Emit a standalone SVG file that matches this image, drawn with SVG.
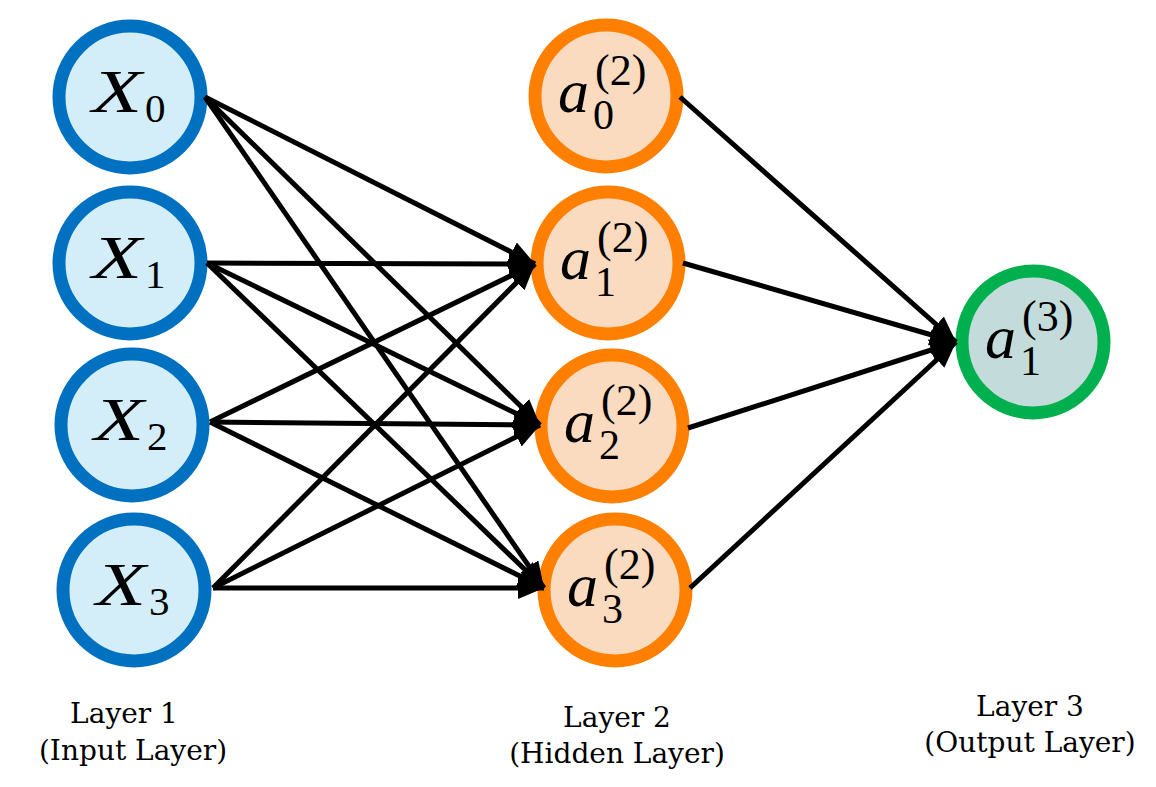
<svg xmlns="http://www.w3.org/2000/svg" width="1156" height="787" viewBox="0 0 1156 787">
<defs>
<marker id="ah" markerUnits="userSpaceOnUse" markerWidth="30" markerHeight="24" refX="26" refY="11" orient="auto">
<path d="M0,0 L26,11 L0,22 Z" fill="#000"/>
</marker>
<style>
.in{fill:#D3EEF9;stroke:#0070C0;stroke-width:13}
.hid{fill:#FBDBBF;stroke:#FF7F00;stroke-width:13}
.out{fill:#C3DCDB;stroke:#00B04F;stroke-width:13}
.m{font-family:"Liberation Serif",serif;font-style:italic;fill:#000}
.n{font-family:"Liberation Serif",serif;fill:#000}
.lbl{font-family:"DejaVu Serif","Liberation Serif",serif;font-size:28px;fill:#000;text-anchor:middle}
.c line{stroke:#000;stroke-width:5;marker-end:url(#ah)}
</style>
</defs>
<rect width="1156" height="787" fill="#fff"/>
<g id="nodes-input">
<g id="X0"><circle class="in" cx="130" cy="97" r="71"/><text class="m" x="92" y="112" font-size="62" textLength="50" lengthAdjust="spacingAndGlyphs">X</text><text class="n" x="145" y="122" font-size="41">0</text></g>
<g id="X1"><circle class="in" cx="130" cy="263" r="71"/><text class="m" x="92" y="278" font-size="62" textLength="50" lengthAdjust="spacingAndGlyphs">X</text><text class="n" x="145" y="288" font-size="41">1</text></g>
<g id="X2"><circle class="in" cx="132" cy="425" r="71"/><text class="m" x="94" y="440" font-size="62" textLength="50" lengthAdjust="spacingAndGlyphs">X</text><text class="n" x="147" y="450" font-size="41">2</text></g>
<g id="X3"><circle class="in" cx="134" cy="590" r="71"/><text class="m" x="96" y="605" font-size="62" textLength="50" lengthAdjust="spacingAndGlyphs">X</text><text class="n" x="149" y="615" font-size="41">3</text></g>
</g>
<g id="nodes-hidden">
<g id="a0"><circle class="hid" cx="606" cy="96" r="71"/><text class="m" x="558" y="112" font-size="62">a</text><text class="n" x="593" y="129" font-size="42">0</text><text class="n" x="595" y="85" font-size="44">(2)</text></g>
<g id="a1"><circle class="hid" cx="608" cy="263" r="71"/><text class="m" x="560" y="279" font-size="62">a</text><text class="n" x="595" y="296" font-size="42">1</text><text class="n" x="597" y="252" font-size="44">(2)</text></g>
<g id="a2"><circle class="hid" cx="612" cy="426" r="71"/><text class="m" x="564" y="442" font-size="62">a</text><text class="n" x="599" y="459" font-size="42">2</text><text class="n" x="601" y="415" font-size="44">(2)</text></g>
<g id="a3"><circle class="hid" cx="615" cy="590" r="71"/><text class="m" x="567" y="606" font-size="62">a</text><text class="n" x="602" y="623" font-size="42">3</text><text class="n" x="604" y="579" font-size="44">(2)</text></g>
</g>
<g id="nodes-output">
<g id="o1"><circle class="out" cx="1033" cy="342" r="71"/><text class="m" x="985" y="358" font-size="62">a</text><text class="n" x="1020" y="375" font-size="42">1</text><text class="n" x="1022" y="331" font-size="44">(3)</text></g>
</g>
<g id="connectors" class="c">
<line x1="205" y1="97" x2="535" y2="264"/>
<line x1="205" y1="97" x2="540" y2="425"/>
<line x1="205" y1="97" x2="544" y2="588"/>
<line x1="207" y1="263" x2="535" y2="264"/>
<line x1="207" y1="263" x2="540" y2="425"/>
<line x1="207" y1="263" x2="544" y2="588"/>
<line x1="210" y1="422" x2="535" y2="264"/>
<line x1="210" y1="422" x2="540" y2="425"/>
<line x1="210" y1="422" x2="544" y2="588"/>
<line x1="213" y1="588" x2="535" y2="264"/>
<line x1="213" y1="588" x2="540" y2="425"/>
<line x1="213" y1="588" x2="544" y2="588"/>
<line x1="680" y1="97" x2="956" y2="342"/>
<line x1="683" y1="263" x2="956" y2="342"/>
<line x1="688" y1="428" x2="956" y2="342"/>
<line x1="690" y1="588" x2="956" y2="342"/>
</g>
<g id="labels">
<text class="lbl" x="124" y="723">Layer 1</text>
<text class="lbl" x="133" y="760">(Input Layer)</text>
<text class="lbl" x="617" y="727">Layer 2</text>
<text class="lbl" x="617" y="763">(Hidden Layer)</text>
<text class="lbl" x="1030" y="716">Layer 3</text>
<text class="lbl" x="1030" y="752">(Output Layer)</text>
</g>
</svg>
